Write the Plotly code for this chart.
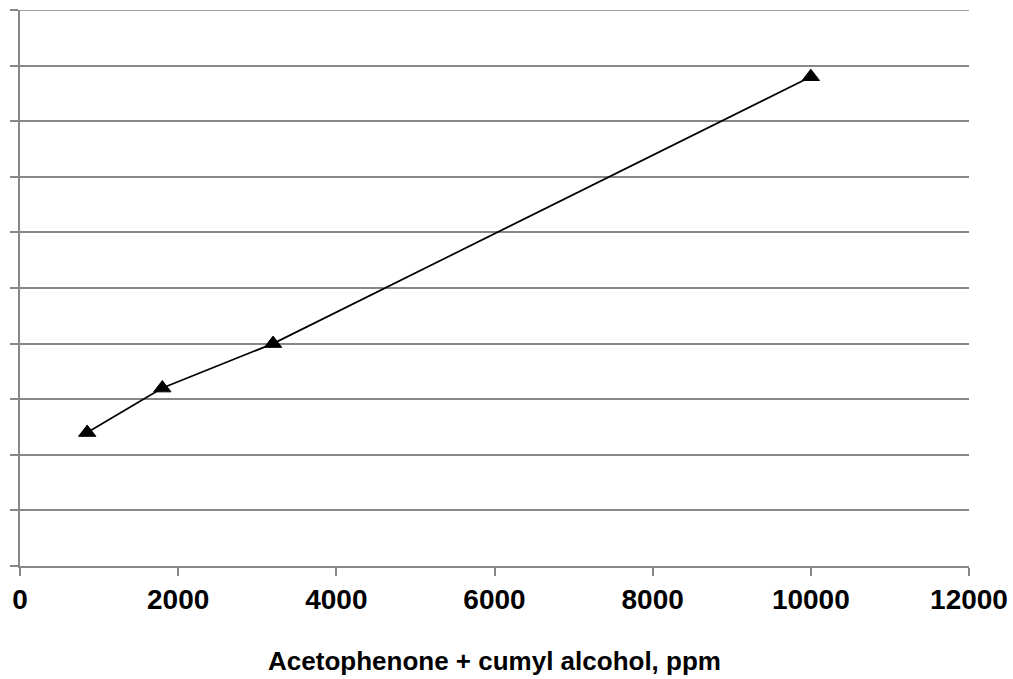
import plotly.graph_objects as go

# Measured concentrations and responses
x_ppm = [850, 1800, 3200, 10000]
y_resp = [2.4, 3.2, 4.0, 8.8]

x_ticks = [0, 2000, 4000, 6000, 8000, 10000, 12000]
x_tick_labels = ["<b>%d</b>" % v for v in x_ticks]

grid_col = "#878787"
font_fam = "Arial, Liberation Sans, sans-serif"
y_top = 10

fig = go.Figure()
fig.add_trace(go.Scatter(
    x=x_ppm, y=y_resp, mode="lines+markers",
    line=dict(color="black", width=1.7),
    marker=dict(symbol="triangle-up", size=15, color="black",
                line=dict(color="black", width=1)),
    showlegend=False,
))

# top gridline sits on the edge of the range, draw it explicitly
fig.add_shape(type="line", xref="paper", yref="y", x0=-0.009, x1=1, y0=y_top, y1=y_top,
              line=dict(color=grid_col, width=1.5), layer="below")

fig.update_layout(
    width=1013, height=679,
    margin=dict(l=20, r=44, t=10, b=113, autoexpand=False),
    paper_bgcolor="white", plot_bgcolor="white",
    font=dict(family=font_fam, color="black"),
    xaxis=dict(
        range=[0, 12000], tickmode="array", tickvals=x_ticks, ticktext=x_tick_labels,
        ticks="outside", ticklen=8, tickwidth=1.5, tickcolor=grid_col,
        showline=True, linecolor=grid_col, linewidth=1.5,
        showgrid=False, zeroline=False, automargin=False,
        tickfont=dict(size=28, family=font_fam, color="black"),
        title=dict(text="<b>Acetophenone + cumyl alcohol, ppm</b>",
                   font=dict(size=26, family=font_fam, color="black"), standoff=37),
    ),
    yaxis=dict(
        range=[0, y_top], dtick=1, tick0=0, showticklabels=False, automargin=False,
        ticks="outside", ticklen=8, tickwidth=1.5, tickcolor=grid_col,
        showline=True, linecolor=grid_col, linewidth=1.5,
        showgrid=True, gridcolor=grid_col, gridwidth=1.5, zeroline=False,
    ),
)

fig.write_html("out.html")
